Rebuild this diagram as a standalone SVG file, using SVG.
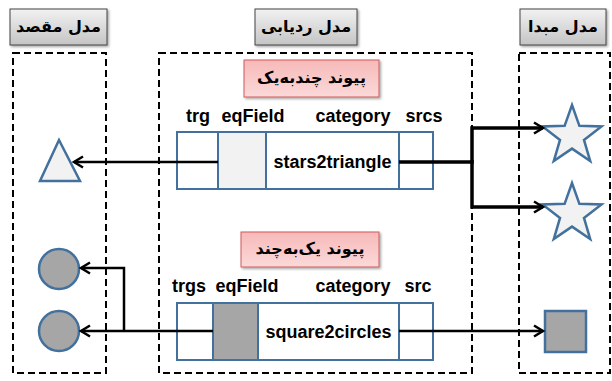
<svg xmlns="http://www.w3.org/2000/svg" width="612" height="381" viewBox="0 0 612 381">
<defs>
<linearGradient id="gHead" x1="0" y1="0" x2="0" y2="1">
<stop offset="0" stop-color="#f2f2f2"/>
<stop offset="1" stop-color="#c4c4c4"/>
</linearGradient>
<linearGradient id="gPink" x1="0" y1="0" x2="0" y2="1">
<stop offset="0" stop-color="#f7b9b9"/>
<stop offset="1" stop-color="#fbd9d9"/>
</linearGradient>
<marker id="arr" markerUnits="userSpaceOnUse" markerWidth="14" markerHeight="14" refX="11" refY="7" orient="auto">
<path d="M2,1.5 L11,7 L2,12.5" fill="none" stroke="#000" stroke-width="2.5" stroke-linejoin="miter"/>
</marker>
<filter id="sh" x="-10%" y="-10%" width="130%" height="140%">
<feDropShadow dx="1.5" dy="1.5" stdDeviation="1" flood-color="#000" flood-opacity="0.35"/>
</filter>
</defs>
<style>
.dash{fill:none;stroke:#000;stroke-width:2;stroke-dasharray:7 4}
.head{fill:url(#gHead);stroke:#444;stroke-width:1}
.pink{fill:url(#gPink);stroke:#d05a5a;stroke-width:1}
.ar{font-family:"DejaVu Sans",sans-serif;font-weight:bold;font-size:16px;fill:#000;text-anchor:middle}
.lb{font-family:"Liberation Sans",Arial,sans-serif;font-weight:bold;font-size:18px;fill:#000;text-anchor:middle}
.cell{fill:#fff;stroke:#41719c;stroke-width:2}
.shape{stroke:#41719c;stroke-width:2.5}
.con{fill:none;stroke:#000;stroke-width:2.5}
.thick{stroke-width:3.5}
</style>

<g id="target-model">
<rect class="dash" x="13" y="53" width="93" height="320"/>
<rect class="head" x="10" y="9" width="97" height="36" filter="url(#sh)"/>
<text class="ar" x="58.5" y="32" direction="rtl">مدل مقصد</text>
</g>
<g id="trace-model">
<rect class="dash" x="159" y="53" width="313" height="320"/>
<rect class="head" x="255" y="9" width="102" height="36" filter="url(#sh)"/>
<text class="ar" x="306" y="32" direction="rtl">مدل ردیابی</text>
</g>
<g id="source-model">
<rect class="dash" x="519" y="53" width="91" height="320"/>
<rect class="head" x="520" y="9" width="86" height="36" filter="url(#sh)"/>
<text class="ar" x="563" y="32" direction="rtl">مدل مبدا</text>
</g>

<g id="link-many-to-one">
<rect class="pink" x="244" y="60" width="135" height="37" filter="url(#sh)"/>
<text class="ar" x="311.5" y="83" direction="rtl">پیوند چندبه‌یک</text>
<text class="lb" x="198" y="122">trg</text>
<text class="lb" x="253" y="122">eqField</text>
<text class="lb" x="353" y="122">category</text>
<text class="lb" x="424" y="122">srcs</text>
<rect class="cell" x="177" y="132" width="256" height="57"/>
<rect class="cell" x="218" y="132" width="48" height="57" style="fill:#f2f2f2"/>
<line class="cell" x1="399" y1="132" x2="399" y2="189"/>
<text class="lb" x="332.5" y="168">stars2triangle</text>
</g>

<g id="link-one-to-many">
<rect class="pink" x="241" y="232" width="138" height="35" filter="url(#sh)"/>
<text class="ar" x="310" y="254" direction="rtl">پیوند یک‌به‌چند</text>
<text class="lb" x="189" y="292">trgs</text>
<text class="lb" x="247" y="292">eqField</text>
<text class="lb" x="353" y="292">category</text>
<text class="lb" x="418" y="292">src</text>
<rect class="cell" x="177" y="303" width="256" height="57"/>
<rect class="cell" x="213" y="303" width="45" height="57" style="fill:#a6a6a6"/>
<line class="cell" x1="399" y1="303" x2="399" y2="360"/>
<text class="lb" x="328.5" y="338">square2circles</text>
</g>

<g id="triangle"><polygon class="shape" points="59,140 40,181 80,181" fill="#f2f2f2"/></g>
<g id="circle1"><circle class="shape" cx="59" cy="269" r="20" fill="#a6a6a6"/></g>
<g id="circle2"><circle class="shape" cx="59" cy="331" r="20" fill="#a6a6a6"/></g>
<g id="star1"><polygon class="shape" fill="#f2f2f2" points="572,105 579.4,125.8 601.5,126.4 584,139.9 590.2,161.1 572,148.6 553.8,161.1 560,139.9 542.5,126.4 564.6,125.8"/></g>
<g id="star2"><polygon class="shape" fill="#f2f2f2" points="572,183 579.4,203.8 601.5,204.4 584,217.9 590.2,239.1 572,226.6 553.8,239.1 560,217.9 542.5,204.4 564.6,203.8"/></g>
<g id="square"><rect class="shape" x="545" y="311" width="41" height="41" fill="#a6a6a6"/></g>

<g id="connectors">
<path class="con" d="M218,162 H74" marker-end="url(#arr)"/>
<path class="con thick" d="M399,162 H472 V128 H543" marker-end="url(#arr)"/>
<path class="con thick" d="M472,160 V207 H543" marker-end="url(#arr)"/>
<path class="con" d="M213,331 H81" marker-end="url(#arr)"/>
<path class="con" d="M124,331 V268 H81" marker-end="url(#arr)"/>
<path class="con" d="M399,331 H543" marker-end="url(#arr)"/>
</g>
</svg>
